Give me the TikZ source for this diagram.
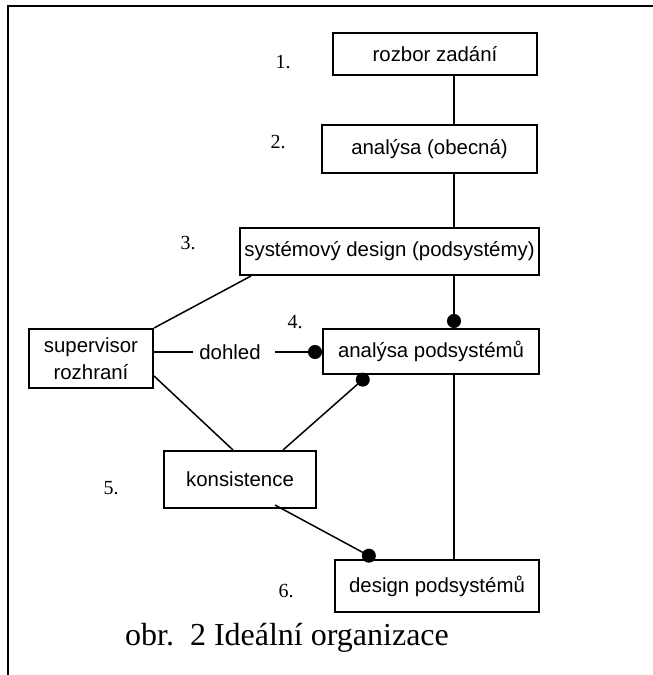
\documentclass[tikz,border=0pt]{standalone}
\usepackage{fontspec}
\setmainfont{Liberation Serif}
\setsansfont{Liberation Sans}
\usetikzlibrary{arrows.meta,calc}

\begin{document}
\begin{tikzpicture}[
  x=0.5pt, y=-0.5pt,
  box/.style={draw, line width=1pt, inner sep=0pt, align=center,
              font=\sffamily\fontsize{10.2}{13.5}\selectfont},
  num/.style={font=\fontsize{10}{12}\selectfont, inner sep=0pt},
  lab/.style={font=\sffamily\fontsize{10.2}{12}\selectfont, inner xsep=3pt, inner ysep=0pt},
  ln/.style={line width=0.75pt},
  dot/.style={ln, -{Circle[length=7pt]}},
  frm/.style={line width=1pt}
]
\useasboundingbox (0,0) rectangle (653,675);

% ================= frame (top and left only) =================
\coordinate (fbl) at (8,675);
\coordinate (ftl) at (8,6);
\coordinate (ftr) at (653,6);
\draw[frm] (fbl) -- (ftl) -- (ftr);

% ================= the steps =================
\node[box, minimum width=102pt, minimum height=21pt] (zad) at (435,54) {rozbor zadání};
\node[box, minimum width=107.5pt, minimum height=24pt] (obec) at (429.5,149) {analýsa (obecná)};
\node[box, minimum width=149.5pt, minimum height=23.5pt] (sysd) at (389.5,251.5) {systémový design (podsystémy)};
\node[box, minimum width=62pt, minimum height=29.5pt] (sup) at (91,358.5) {supervisor\\rozhraní};
\node[box, minimum width=108pt, minimum height=22.5pt] (anpod) at (431,351.5) {analýsa podsystémů};
\node[box, minimum width=76pt, minimum height=28.5pt] (kons) at (240,479.5) {konsistence};
\node[box, minimum width=102pt, minimum height=26pt] (despod) at (437,586) {design podsystémů};

\node[num] (n1) at (283,62) {1.};
\node[num] (n2) at (278,142) {2.};
\node[num] (n3) at (188,243) {3.};
\node[num] (n4) at (295,322) {4.};
\node[num] (n5) at (111,488) {5.};
\node[num] (n6) at (286,591) {6.};

% ================= connectors =================
% the main chain runs down one vertical line, a bit right of the box centres
\coordinate (sp) at (454,0);
\draw[ln] (zad.south -| sp) -- (obec.north -| sp);
\draw[ln] (obec.south -| sp) -- (sysd.north -| sp);
\draw[dot] (sysd.south -| sp) -- (anpod.north -| sp);
\draw[ln] (anpod.south -| sp) -- (despod.north -| sp);

\draw[ln] ([xshift=6pt]sysd.south west) -- (sup.north east);

\node[lab] (doh) at (230,352) {dohled};
\draw[ln] (sup.east |- doh) -- (doh.west);
\draw[dot, shorten <=4pt] (doh.east) -- (anpod.west |- doh);

\draw[ln] ([yshift=6.5pt]sup.south east) -- ([xshift=-3.5pt]kons.north);
\draw[dot] ([xshift=21.5pt]kons.north) -- ([xshift=-31.5pt]anpod.south);
\draw[dot] ([xshift=17.5pt,yshift=2pt]kons.south) -- ([xshift=-31pt]despod.north);

% ================= caption =================
\node[font=\fontsize{16}{19}\selectfont, inner sep=0pt] (cap) at (287,638) {obr.\ \ 2 Ideální organizace};

\end{tikzpicture}
\end{document}
